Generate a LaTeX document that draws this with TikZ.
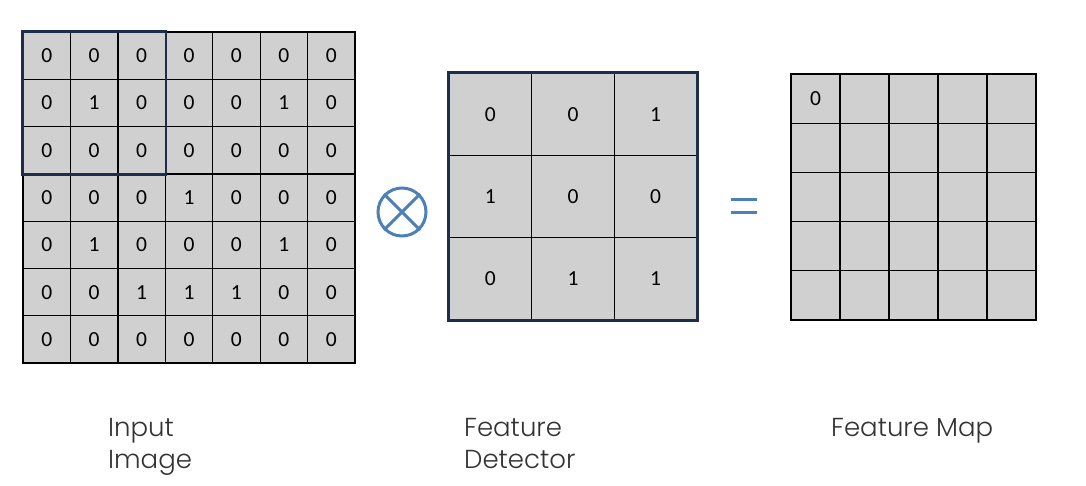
\documentclass[tikz,border=0pt]{standalone}
\usepackage{fontspec}
\setmainfont{Carlito}
\newfontfamily\labfont{Poppins Light}
\definecolor{cellgray}{RGB}{208,208,208}
\definecolor{hlblue}{RGB}{30,45,75}
\definecolor{opblue}{RGB}{78,128,184}
\tikzset{
  cellbox/.style={draw=black, line width=1.3pt, fill=cellgray, inner sep=0pt, font=\fontsize{21.5}{23}\selectfont},
  incell/.style={cellbox, minimum width=47.43pt, minimum height=47.29pt},
  fdcell/.style={cellbox, minimum width=82.67pt, minimum height=82.33pt},
  fmcell/.style={cellbox, minimum width=49pt, minimum height=49.2pt},
  hlframe/.style={draw=hlblue, line width=2.6pt},
  opline/.style={draw=opblue, line width=3pt},
  labeltext/.style={font=\labfont\fontsize{26}{32}\selectfont, text=black!80, inner sep=0pt, align=left, anchor=north west}
}
\begin{document}
\begin{tikzpicture}[x=1pt,y=-1pt]
\useasboundingbox[fill=white] (0,0) rectangle (1086,485);
% input image
\foreach \row [count=\r] in {{0,0,0,0,0,0,0},{0,1,0,0,0,1,0},{0,0,0,0,0,0,0},{0,0,0,1,0,0,0},{0,1,0,0,0,1,0},{0,0,1,1,1,0,0},{0,0,0,0,0,0,0}}
  \foreach \v [count=\c] in \row
    \node[incell] (in-\r-\c) at ({23+47.43*(\c-0.5)},{32+47.29*(\r-0.5)}) {\v};
\draw[hlframe] (in-1-1.north west) rectangle (in-3-3.south east);
% feature detector
\foreach \row [count=\r] in {{0,0,1},{1,0,0},{0,1,1}}
  \foreach \v [count=\c] in \row
    \node[fdcell] (fd-\r-\c) at ({449+82.67*(\c-0.5)},{73+82.33*(\r-0.5)}) {\v};
\draw[hlframe] (fd-1-1.north west) rectangle (fd-3-3.south east);
% feature map
\foreach \r in {1,...,5}
  \foreach \c in {1,...,5}
    \node[fmcell] (fm-\r-\c) at ({791+49*(\c-0.5)},{74+49.2*(\r-0.5)}) {};
\node[font=\fontsize{21.5}{23}\selectfont] at (fm-1-1) {0};
% operators
\node[circle, opline, minimum size=48pt, inner sep=0pt] (op) at (402,212) {};
\draw[opline] (op.45) -- (op.225);
\draw[opline] (op.135) -- (op.315);
\node[minimum width=26pt, minimum height=13pt, inner sep=0pt] (eq) at (744,206) {};
\draw[opline] (eq.north west) -- (eq.north east);
\draw[opline] (eq.south west) -- (eq.south east);
% labels
\node[labeltext] (l1) at (108,418) {Input\\Image};
\node[labeltext] (l2) at (464,418) {Feature\\Detector};
\node[labeltext] (l3) at (831,418) {Feature Map};
\end{tikzpicture}
\end{document}
